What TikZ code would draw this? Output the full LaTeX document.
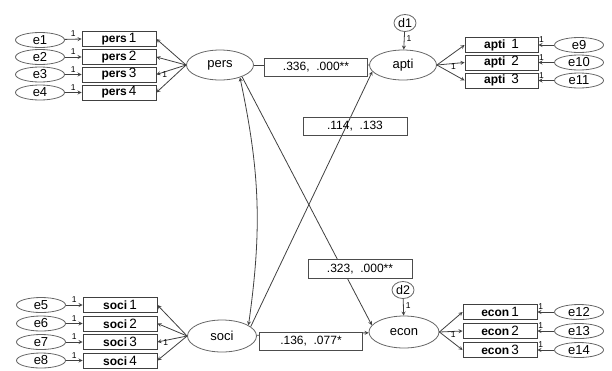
\documentclass[tikz,border=0pt]{standalone}
\usepackage{fontspec}
\setmainfont{Liberation Sans}
\usetikzlibrary{shapes.geometric}
\tikzset{
  > = {stealth},
  pixel frame/.style = {x=1pt, y=-1pt},
  obs/.style = {draw=black!75, rectangle, minimum width=74pt, minimum height=15pt, inner sep=0pt, font=\fontsize{12}{12}\selectfont},
  lat/.style = {draw=black!60, ellipse, minimum width=67pt, minimum height=30pt, inner sep=0pt, font=\fontsize{13}{13}\selectfont},
  err/.style = {draw=black!60, ellipse, minimum width=49pt, minimum height=15pt, inner sep=0pt, font=\fontsize{13}{13}\selectfont},
  dist/.style = {draw=black!60, ellipse, minimum width=22pt, minimum height=17pt, inner sep=0pt, font=\fontsize{12.5}{12}\selectfont},
  coef/.style = {draw=black!70, fill=white, rectangle, minimum width=103pt, minimum height=18pt, inner sep=0pt, font=\fontsize{12}{12}\selectfont},
  one/.style = {font=\fontsize{8.5}{8.5}\selectfont, inner sep=0pt},
  path/.style = {->, draw=black!75},
}
\newcommand{\ind}[2]{\textbf{#1}\,{\fontsize{13.5}{13}\selectfont #2}}

\begin{document}
\begin{tikzpicture}[pixel frame, line width=0.8pt]
  \useasboundingbox (0,0) rectangle (612,370);

  %% latent variables
  \node[lat] (pers) at (220,65) {pers};
  \node[lat] (apti) at (403,65) {apti};
  \node[lat, minimum width=69pt, minimum height=32pt] (soci) at (222,336) {soci};
  \node[lat, minimum width=70pt, minimum height=32pt] (econ) at (404,332) {econ};

  % disturbances
  \node[dist] (d1) at (405,23) {d1};
  \node[dist] (d2) at (403,290) {d2};
  \draw[path] (d1) -- (apti) node[one, pos=0.4, right=2pt] {1};
  \draw[path] (d2) -- (econ) node[one, pos=0.4, right=2pt] {1};

  % pers indicators
  \node[obs] (pers1) at (119,39) {\ind{pers}{1}};
  \node[obs] (pers2) at (119,57) {\ind{pers}{2}};
  \node[obs] (pers3) at (119,74.5) {\ind{pers}{3}};
  \node[obs] (pers4) at (119,92.5) {\ind{pers}{4}};
  \node[err] (e1) at (40,40) {e1};
  \node[err] (e2) at (40,57) {e2};
  \node[err] (e3) at (40,74.5) {e3};
  \node[err] (e4) at (40,92.5) {e4};

  % soci indicators
  \node[obs] (soci1) at (120,305) {\ind{soci}{1}};
  \node[obs] (soci2) at (120,323.5) {\ind{soci}{2}};
  \node[obs] (soci3) at (120,342) {\ind{soci}{3}};
  \node[obs] (soci4) at (120,360.5) {\ind{soci}{4}};
  \node[err] (e5) at (41,305) {e5};
  \node[err] (e6) at (41,323.5) {e6};
  \node[err] (e7) at (41,342) {e7};
  \node[err] (e8) at (41,360.5) {e8};

  % apti indicators
  \node[obs, minimum width=73pt] (apti1) at (501.5,45) {\ind{apti}{\ 1}};
  \node[obs, minimum width=73pt] (apti2) at (501.5,62.5) {\ind{apti}{\ 2}};
  \node[obs, minimum width=73pt] (apti3) at (501.5,80.5) {\ind{apti}{\ 3}};
  \node[err] (e9) at (579,45) {e9};
  \node[err] (e10) at (579,62.5) {e10};
  \node[err] (e11) at (579,80.5) {e11};

  % econ indicators
  \node[obs] (econ1) at (500,312) {\ind{econ}{1}};
  \node[obs] (econ2) at (500,331) {\ind{econ}{2}};
  \node[obs] (econ3) at (500,350) {\ind{econ}{3}};
  \node[err] (e12) at (579,312) {e12};
  \node[err] (e13) at (579,331) {e13};
  \node[err] (e14) at (579,350) {e14};

  % loadings
  \draw[path] (pers.west) -- (pers1.east);
  \draw[path] (pers.west) -- (pers2.east);
  \draw[path] (pers.west) -- (pers3.east) node[one, pos=0.85, right=1pt, yshift=-1pt] {1};
  \draw[path] (pers.west) -- (pers4.east);
  \draw[path] (soci.west) -- (soci1.east);
  \draw[path] (soci.west) -- (soci2.east);
  \draw[path] (soci.west) -- (soci3.east) node[one, pos=0.85, right=1pt, yshift=-1pt] {1};
  \draw[path] (soci.west) -- (soci4.east);
  \draw[path] (apti.east) -- (apti1.west);
  \draw[path] (apti.east) -- (apti2.west) node[one, pos=0.6, below=0pt] {1};
  \draw[path] (apti.east) -- (apti3.west);
  \draw[path] (econ.east) -- (econ1.west);
  \draw[path] (econ.east) -- (econ2.west) node[one, pos=0.6, below=0pt] {1};
  \draw[path] (econ.east) -- (econ3.west);

  % error paths
  \draw[path] (e1) -- (pers1.west) node[one, pos=0.5, above=2pt] {1};
  \draw[path] (e2) -- (pers2.west) node[one, pos=0.5, above=2pt] {1};
  \draw[path] (e3) -- (pers3.west) node[one, pos=0.5, above=2pt] {1};
  \draw[path] (e4) -- (pers4.west) node[one, pos=0.5, above=2pt] {1};
  \draw[path] (e5) -- (soci1.west) node[one, pos=0.5, above=2pt] {1};
  \draw[path] (e6) -- (soci2.west) node[one, pos=0.5, above=2pt] {1};
  \draw[path] (e7) -- (soci3.west) node[one, pos=0.5, above=2pt] {1};
  \draw[path] (e8) -- (soci4.west) node[one, pos=0.5, above=2pt] {1};
  \draw[path] (e9) -- (apti1.east) node[one, pos=0.8, above=2pt] {1};
  \draw[path] (e10) -- (apti2.east) node[one, pos=0.8, above=2pt] {1};
  \draw[path] (e11) -- (apti3.east) node[one, pos=0.8, above=2pt] {1};
  \draw[path] (e12) -- (econ1.east) node[one, pos=0.8, above=2pt] {1};
  \draw[path] (e13) -- (econ2.east) node[one, pos=0.8, above=2pt] {1};
  \draw[path] (e14) -- (econ3.east) node[one, pos=0.8, above=2pt] {1};

  % structural paths
  \draw[path] (pers) -- (apti);
  \draw[path] (soci) -- (econ);
  \draw[path] (pers.-28) -- (econ.168);
  \draw[path] (soci.18) -- (apti.192);
  \draw[<->, draw=black!75] (pers.-32) to[bend left=10] (soci.22);

  % coefficients
  \node[coef] (c1) at (316,67) {.336,\ \ .000**};
  \node[coef, fill=none, minimum width=104pt] (c2) at (355,126) {.114,\ \ .133};
  \node[coef, minimum width=104pt, minimum height=19pt] (c3) at (360,269) {.323,\ \ .000**};
  \node[coef] (c4) at (311,341) {.136,\ \ .077*};
\end{tikzpicture}
\end{document}
